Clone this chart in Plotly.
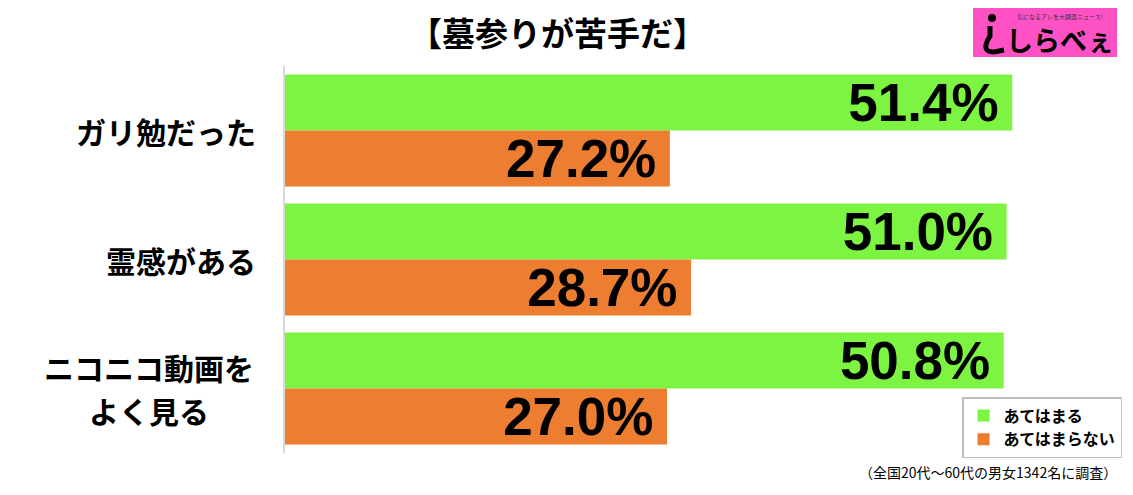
import plotly.graph_objects as go

# data
categories = ["ガリ勉だった", "霊感がある", "ニコニコ動画を<br>よく見る"]
series_names = ["あてはまる", "あてはまらない"]
yes_values = [51.4, 51.0, 50.8]
no_values = [27.2, 28.7, 27.0]
colors = ["#7df442", "#ed7d31"]

title_text = "【墓参りが苦手だ】"
note_text = "（全国20代～60代の男女1342名に調査）"

jp_font = "Noto Sans CJK JP"
num_font = "Liberation Sans"

# page has an 8px body margin, so work in page pixels and shift
OFF = 8
W, H = 1133, 495
L, R, T, B = 285 - OFF, 0, 66 - OFF, H - 453 + OFF
pw, ph = W - L - R, H - T - B


def px_x(px):
    return (px - OFF - L) / pw


def px_y(py):
    return (H - B - (py - OFF)) / ph


fig = go.Figure()
for name, vals, col in zip(series_names, [yes_values, no_values], colors):
    fig.add_trace(go.Bar(
        y=categories,
        x=vals,
        orientation="h",
        name=name,
        marker=dict(color=col, line=dict(width=0)),
        text=["%.1f%%\u2009" % v for v in vals],
        textposition="inside",
        insidetextanchor="end",
        constraintext="none",
        textfont=dict(family=num_font, size=53, color="black", weight="bold"),
        hoverinfo="skip",
    ))

# category labels as annotations, one per line, centered
for c in categories:
    lines = c.split("<br>")
    n = len(lines)
    for k, line in enumerate(lines):
        fig.add_annotation(
            x=0, xref="paper", y=c, yref="y",
            text="<b>" + line + "</b>",
            xanchor="center" if n > 1 else "right", yanchor="middle",
            xshift=-136 if n > 1 else -27,
            yshift=((n - 1) / 2 - k) * 43,
            showarrow=False,
            font=dict(family=jp_font, size=30, color="black"),
        )

fig.add_annotation(
    x=px_x(557), xref="paper", y=px_y(32), yref="paper",
    text="<b>" + title_text + "</b>",
    xanchor="center", yanchor="middle", showarrow=False,
    font=dict(family=jp_font, size=33, color="black"),
)

fig.add_annotation(
    x=px_x(1119), xref="paper", y=px_y(472), yref="paper",
    text=note_text, xanchor="right", yanchor="middle", showarrow=False,
    font=dict(family=jp_font, size=14, color="black"),
)

# logo box
fig.add_shape(type="rect", xref="paper", yref="paper",
              x0=px_x(973), x1=px_x(1117), y0=px_y(57), y1=px_y(5),
              fillcolor="#fe52c4", line=dict(width=0))
fig.add_shape(type="circle", xref="paper", yref="paper",
              x0=px_x(988), x1=px_x(996), y0=px_y(22), y1=px_y(14),
              fillcolor="black", line=dict(width=0))
fig.add_shape(type="path", xref="paper", yref="paper",
              path="M %f %f L %f %f Q %f %f %f %f L %f %f" % (
                  px_x(990), px_y(26), px_x(990), px_y(36),
                  px_x(980), px_y(52), px_x(994), px_y(52),
                  px_x(1004), px_y(50)),
              line=dict(color="black", width=5))
fig.add_annotation(
    x=px_x(1060), xref="paper", y=px_y(40), yref="paper",
    text="<b>しらべぇ</b>", xanchor="center", yanchor="middle", showarrow=False,
    font=dict(family=jp_font, size=27, color="black"),
)
fig.add_annotation(
    x=px_x(1060), xref="paper", y=px_y(16), yref="paper",
    text="気になるアレを大調査ニュース!", xanchor="center", yanchor="middle",
    showarrow=False, font=dict(family=jp_font, size=6, color="#333333"),
)

fig.update_layout(
    width=W, height=H,
    margin=dict(l=L, r=R, t=T, b=B, autoexpand=False),
    paper_bgcolor="white", plot_bgcolor="white",
    barmode="group", bargap=0.132, bargroupgap=0,
    showlegend=True,
    legend=dict(
        xref="container", yref="container",
        x=(962 - OFF) / W, y=1 - (397 - OFF) / H, xanchor="left", yanchor="top",
        bordercolor="#bfbfbf", borderwidth=1.5, bgcolor="white",
        font=dict(family=jp_font, size=16, color="black", weight="bold"),
        tracegroupgap=8, itemwidth=30,
    ),
    xaxis=dict(range=[0, 60.5], visible=False, fixedrange=True),
    yaxis=dict(autorange="reversed", showticklabels=False, ticks="",
               showgrid=False, showline=True, linecolor="#d9d9d9",
               linewidth=1.5, zeroline=False),
)

fig.write_html("out.html")
